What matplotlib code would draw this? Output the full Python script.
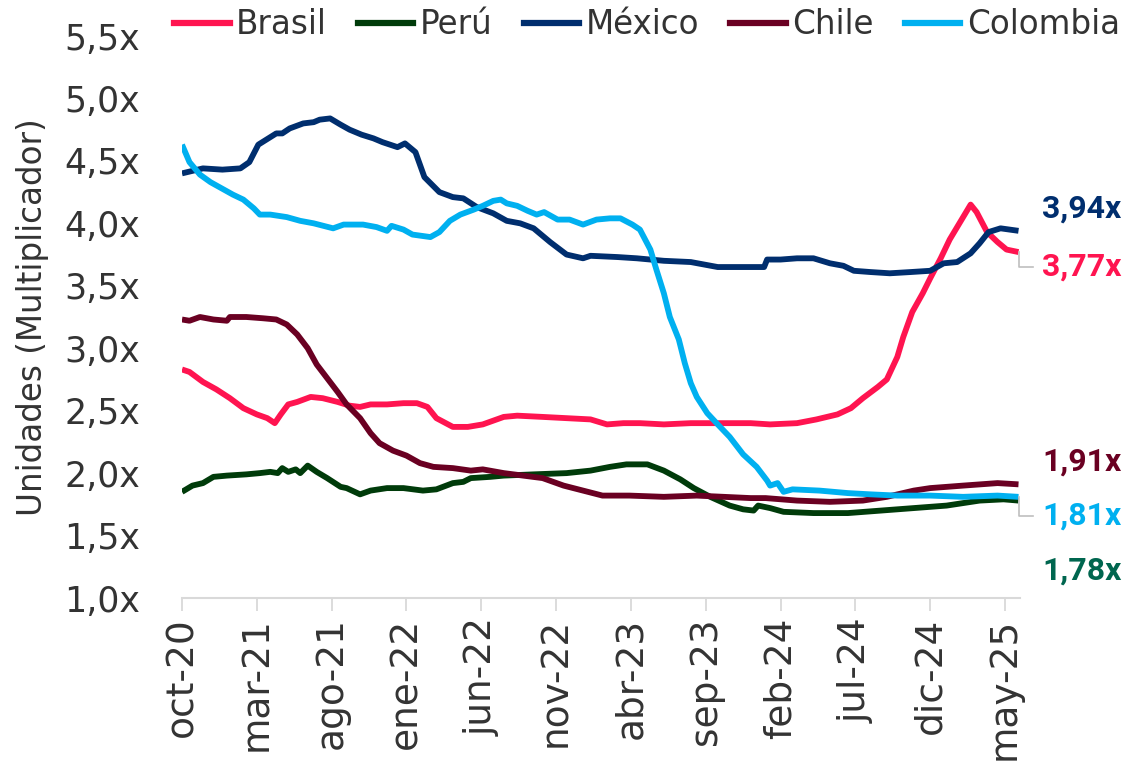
import matplotlib
matplotlib.use("Agg")
import matplotlib.pyplot as plt
from matplotlib.lines import Line2D

# ---- data (x = months since oct-20) ----
mex_x = [0, 1.4, 2.7, 3.9, 4.5, 5.1, 5.9, 6.3, 6.7, 7.2, 8.1, 8.8, 9.2, 9.9, 10.6, 11.2, 12.0, 12.8, 13.4,
         14.4, 14.9, 15.6, 16.2, 17.2, 18.1, 18.8, 19.7, 20.8, 21.7, 22.6, 23.5, 24.6, 25.7, 26.8, 27.3, 29.1,
         30.4, 32.2, 34.0, 35.8, 37.1, 38.9, 39.1, 40.0, 41.1, 42.2, 43.3, 44.2, 44.9, 46.0, 47.3, 48.7, 50.0,
         50.9, 51.8, 52.7, 53.3, 53.9, 54.7, 55.3, 55.9]
mex_y = [4.40, 4.44, 4.43, 4.44, 4.49, 4.63, 4.69, 4.72, 4.72, 4.76, 4.80, 4.81, 4.83, 4.84, 4.79, 4.75, 4.71,
         4.68, 4.65, 4.61, 4.64, 4.57, 4.37, 4.25, 4.21, 4.20, 4.13, 4.08, 4.02, 4.00, 3.96, 3.85, 3.75, 3.72,
         3.74, 3.73, 3.72, 3.70, 3.69, 3.65, 3.65, 3.65, 3.71, 3.71, 3.72, 3.72, 3.68, 3.66, 3.62, 3.61, 3.60,
         3.61, 3.62, 3.68, 3.69, 3.76, 3.84, 3.93, 3.96, 3.95, 3.94]

col_x = [0, 0.5, 1.2, 1.9, 2.5, 3.4, 4.1, 4.8, 5.2, 5.9, 7.0, 7.9, 8.8, 10.1, 10.8, 11.4, 12.1, 13.0, 13.7,
         14.0, 14.8, 15.4, 16.6, 17.2, 17.9, 18.6, 19.5, 20.1, 20.8, 21.3, 21.7, 22.4, 23.1, 23.7, 24.2, 25.1,
         25.9, 26.8, 27.7, 28.6, 29.3, 30.1, 30.6, 31.3, 31.7, 32.2, 32.6, 33.2, 33.6, 34.0, 34.4, 35.1, 35.8,
         36.6, 37.5, 38.4, 39.1, 39.3, 39.8, 40.2, 40.8, 42.6, 44.5, 46.0, 47.8, 50.0, 52.2, 54.5, 55.9]
col_y = [4.63, 4.49, 4.39, 4.33, 4.29, 4.23, 4.19, 4.12, 4.07, 4.07, 4.05, 4.02, 4.00, 3.96, 3.99, 3.99, 3.99,
         3.97, 3.94, 3.98, 3.95, 3.91, 3.89, 3.93, 4.02, 4.07, 4.11, 4.14, 4.18, 4.19, 4.16, 4.14, 4.10, 4.07,
         4.09, 4.03, 4.03, 3.99, 4.03, 4.04, 4.04, 3.99, 3.95, 3.79, 3.63, 3.44, 3.25, 3.07, 2.88, 2.72, 2.61,
         2.48, 2.39, 2.29, 2.15, 2.05, 1.94, 1.90, 1.92, 1.85, 1.87, 1.86, 1.84, 1.83, 1.82, 1.82, 1.81, 1.82,
         1.81]

bra_x = [0, 0.5, 1.4, 2.3, 3.2, 4.1, 5.0, 5.7, 6.2, 6.6, 7.1, 7.7, 8.6, 9.4, 10.4, 11.2, 11.9, 12.6, 13.7,
         14.8, 15.7, 16.4, 17.0, 18.1, 19.1, 20.1, 21.5, 22.4, 24.1, 25.7, 27.3, 28.4, 29.5, 30.6, 32.2, 34.0,
         35.8, 38.0, 39.3, 41.1, 42.4, 43.8, 44.7, 45.5, 46.5, 47.1, 47.8, 48.2, 48.8, 49.5, 50.0, 50.7, 51.3,
         52.0, 52.7, 53.1, 53.8, 54.5, 55.1, 55.9]
bra_y = [2.83, 2.81, 2.73, 2.67, 2.60, 2.52, 2.47, 2.44, 2.40, 2.47, 2.55, 2.57, 2.61, 2.60, 2.57, 2.54, 2.53,
         2.55, 2.55, 2.56, 2.56, 2.53, 2.44, 2.37, 2.37, 2.39, 2.45, 2.46, 2.45, 2.44, 2.43, 2.39, 2.40, 2.40,
         2.39, 2.40, 2.40, 2.40, 2.39, 2.40, 2.43, 2.47, 2.52, 2.60, 2.69, 2.75, 2.93, 3.09, 3.29, 3.44, 3.56,
         3.72, 3.87, 4.01, 4.15, 4.09, 3.93, 3.85, 3.79, 3.77]

chi_x = [0, 0.5, 1.2, 2.1, 3.0, 3.2, 4.3, 5.4, 6.3, 7.0, 7.7, 8.4, 9.0, 9.7, 10.4, 11.0, 11.9, 12.6, 13.2,
         14.1, 15.0, 15.9, 16.8, 18.1, 19.3, 20.1, 21.5, 22.8, 24.1, 25.5, 26.8, 28.1, 29.9, 32.2, 34.4, 36.2,
         38.0, 39.0, 41.1, 43.3, 45.5, 47.1, 48.9, 50.0, 52.2, 54.5, 55.9]
chi_y = [3.23, 3.22, 3.25, 3.23, 3.22, 3.25, 3.25, 3.24, 3.23, 3.19, 3.11, 3.00, 2.87, 2.76, 2.65, 2.55, 2.44,
         2.32, 2.24, 2.18, 2.14, 2.08, 2.05, 2.04, 2.02, 2.03, 2.00, 1.98, 1.96, 1.90, 1.86, 1.82, 1.82, 1.81,
         1.82, 1.81, 1.80, 1.80, 1.78, 1.77, 1.78, 1.81, 1.86, 1.88, 1.90, 1.92, 1.91]

per_x = [0, 0.7, 1.4, 2.1, 3.0, 4.3, 5.2, 5.9, 6.4, 6.7, 7.1, 7.6, 7.9, 8.4, 9.0, 9.7, 10.6, 11.0, 11.9, 12.6,
         13.7, 14.8, 16.1, 17.0, 18.1, 18.8, 19.3, 20.6, 21.5, 23.5, 25.7, 27.3, 28.6, 29.7, 31.1, 32.2, 33.3,
         34.2, 35.3, 36.6, 37.5, 38.2, 38.5, 39.3, 40.2, 42.2, 44.5, 46.7, 48.9, 51.1, 53.3, 54.9, 55.9]
per_y = [1.85, 1.90, 1.92, 1.97, 1.98, 1.99, 2.00, 2.01, 2.00, 2.04, 2.01, 2.03, 2.00, 2.06, 2.01, 1.96, 1.89,
         1.88, 1.83, 1.86, 1.88, 1.88, 1.86, 1.87, 1.92, 1.93, 1.96, 1.97, 1.98, 1.99, 2.00, 2.02, 2.05, 2.07,
         2.07, 2.02, 1.95, 1.88, 1.81, 1.74, 1.71, 1.70, 1.74, 1.72, 1.69, 1.68, 1.68, 1.70, 1.72, 1.74, 1.78,
         1.79, 1.78]

series_names = ["Brasil", "Perú", "México", "Chile", "Colombia"]
series_colors = ["#FF1450", "#003B0A", "#002E6E", "#6A0022", "#00B0F0"]

tick_months = [0, 5, 10, 15, 20, 25, 30, 35, 40, 45, 50, 55]
tick_labels = ["oct-20", "mar-21", "ago-21", "ene-22", "jun-22", "nov-22", "abr-23", "sep-23",
               "feb-24", "jul-24", "dic-24", "may-25"]
y_ticks = [1.0, 1.5, 2.0, 2.5, 3.0, 3.5, 4.0, 4.5, 5.0, 5.5]
y_tick_labels = ["1,0x", "1,5x", "2,0x", "2,5x", "3,0x", "3,5x", "4,0x", "4,5x", "5,0x", "5,5x"]

end_labels = ["3,94x", "3,77x", "1,91x", "1,81x", "1,78x"]
end_label_colors = ["#002E6E", "#FF1450", "#6A0022", "#00B0F0", "#00664F"]
end_label_ypos = [4.12, 3.65, 2.09, 1.66, 1.22]

# ---- figure ----
plt.rcParams["font.family"] = ["DejaVu Sans"]
fig = plt.figure(figsize=(11.44, 7.63), dpi=100)
ax = fig.add_axes([182 / 1144, (763 - 598) / 763, (1020 - 182) / 1144, (598 - 36) / 763])

data = {
    "Brasil": (bra_x, bra_y),
    "Perú": (per_x, per_y),
    "México": (mex_x, mex_y),
    "Chile": (chi_x, chi_y),
    "Colombia": (col_x, col_y),
}
order = ["Brasil", "Perú", "Chile", "México", "Colombia"]
for name in order:
    xs, ys = data[name]
    c = series_colors[series_names.index(name)]
    ax.plot(xs, ys, color=c, lw=4.2, solid_capstyle="butt", solid_joinstyle="round")

ax.set_xlim(0, 56)
ax.set_ylim(1.0, 5.5)
ax.set_xticks(tick_months)
ax.set_xticklabels(tick_labels, rotation=90, fontsize=27, color="#333333")
ax.set_yticks(y_ticks)
ax.set_yticklabels(y_tick_labels, fontsize=25, color="#333333")
ax.tick_params(axis="y", length=0, pad=30)
ax.tick_params(axis="x", length=9, width=1.3, color="#D9D9D9", pad=5)
for s in ["left", "right", "top"]:
    ax.spines[s].set_visible(False)
ax.spines["bottom"].set_color("#D9D9D9")
ax.spines["bottom"].set_linewidth(1.5)

fig.text(33 / 1144, (763 - 317) / 763, "Unidades (Multiplicador)", rotation=90,
         ha="center", va="center", fontsize=23.5, color="#333333")

# end labels
lx = 57.5
for txt, c, yp in zip(end_labels, end_label_colors, end_label_ypos):
    ax.text(lx, yp, txt, color=c, fontsize=23, fontweight="bold", ha="left", va="center",
            family=["Roboto", "DejaVu Sans"], clip_on=False)

# leader lines for Brasil and Colombia labels
for (xs, ys), yp in [((bra_x, bra_y), end_label_ypos[1]), ((col_x, col_y), end_label_ypos[3])]:
    x0 = xs[-1]
    ax.plot([x0, x0, x0 + 0.95], [ys[-1], yp, yp], color="#BFBFBF", lw=1.2, clip_on=False)

# legend
handles = [Line2D([0], [0], color=c, lw=4.5) for c in series_colors]
fig.legend(handles, series_names, loc="center", bbox_to_anchor=(647 / 1144, 1 - 25 / 763), ncol=5,
           frameon=False, fontsize=23.5, handlelength=1.7, handletextpad=0.2, columnspacing=0.95,
           labelcolor="#333333")

fig.savefig("out.png", dpi=100)
